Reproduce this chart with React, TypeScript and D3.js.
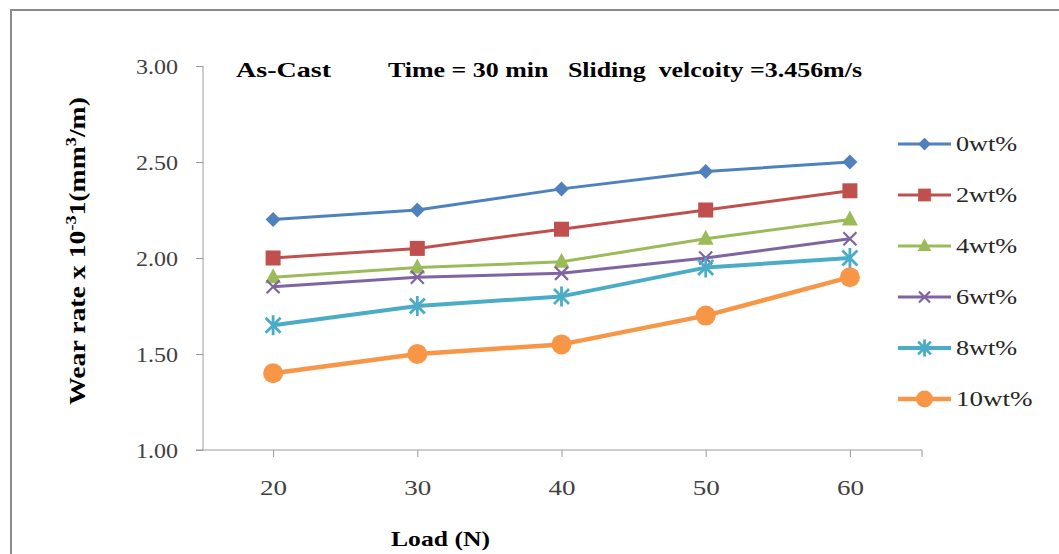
import React, { useEffect, useRef } from "react";
import * as d3 from "d3";

const loads = [20, 30, 40, 50, 60];
const seriesNames = ["0wt%", "2wt%", "4wt%", "6wt%", "8wt%", "10wt%"];
const wt0 = [2.2, 2.25, 2.36, 2.45, 2.5];
const wt2 = [2.0, 2.05, 2.15, 2.25, 2.35];
const wt4 = [1.9, 1.95, 1.98, 2.1, 2.2];
const wt6 = [1.85, 1.9, 1.92, 2.0, 2.1];
const wt8 = [1.65, 1.75, 1.8, 1.95, 2.0];
const wt10 = [1.4, 1.5, 1.55, 1.7, 1.9];
const yTicks = [1.0, 1.5, 2.0, 2.5, 3.0];

const colors = ["#4F81BD", "#C0504D", "#9BBB59", "#8064A2", "#4BACC6", "#F79646"];
const widths = [3, 3, 3, 3, 4, 4.5];
const markers = ["diamond", "square", "triangle", "x", "star", "circle"];

const W = 1059;
const H = 554;
const font = "'Liberation Serif', 'Times New Roman', serif";

function drawMarker(g: any, kind: string, x: number, y: number, color: string, scale = 1) {
  const s = scale;
  if (kind === "diamond") {
    g.append("path")
      .attr("d", `M${x},${y - 7.5 * s}L${x + 7.5 * s},${y}L${x},${y + 7.5 * s}L${x - 7.5 * s},${y}Z`)
      .attr("fill", color);
  } else if (kind === "square") {
    g.append("rect")
      .attr("x", x - 7.5 * s).attr("y", y - 7.5 * s)
      .attr("width", 15 * s).attr("height", 15 * s)
      .attr("fill", color);
  } else if (kind === "triangle") {
    g.append("path")
      .attr("d", `M${x},${y - 9 * s}L${x + 8 * s},${y + 6 * s}L${x - 8 * s},${y + 6 * s}Z`)
      .attr("fill", color);
  } else if (kind === "x") {
    const r = 6.5 * s;
    g.append("path")
      .attr("d", `M${x - r},${y - r}L${x + r},${y + r}M${x - r},${y + r}L${x + r},${y - r}`)
      .attr("stroke", color).attr("stroke-width", 2.2);
  } else if (kind === "star") {
    const r = 10 * s;
    g.append("path")
      .attr("d", `M${x - r * 0.75},${y - r * 0.75}L${x + r * 0.75},${y + r * 0.75}M${x - r * 0.75},${y + r * 0.75}L${x + r * 0.75},${y - r * 0.75}M${x},${y - r}L${x},${y + r}`)
      .attr("stroke", color).attr("stroke-width", 2.8);
  } else {
    g.append("circle").attr("cx", x).attr("cy", y).attr("r", 10 * s).attr("fill", color);
  }
}

const App = () => {
  const svgRef = useRef<SVGSVGElement>(null);

  useEffect(() => {
    const svg = d3.select(svgRef.current);
    svg.selectAll("*").remove();

    const data = [wt0, wt2, wt4, wt6, wt8, wt10];

    const x = d3.scalePoint<number>().domain(loads).range([201, 922]).padding(0.5);
    const y = d3.scaleLinear().domain([1, 3]).range([450, 66]);

    svg.append("rect").attr("width", W).attr("height", H).attr("fill", "#fff");

    // outer frame (top and left edges visible)
    svg.append("path")
      .attr("d", `M11,${H}L11,10L${W},10`)
      .attr("fill", "none").attr("stroke", "#8a8a8a").attr("stroke-width", 2);

    // y axis
    const yAxis = d3.axisLeft(y).tickValues(yTicks).tickFormat(d3.format(".2f")).tickSize(7).tickPadding(18);
    const ya = svg.append("g").attr("transform", "translate(203,0)").call(yAxis);
    ya.select(".domain").attr("stroke", "#9a9a9a").attr("d", "M0,66V450");
    ya.selectAll(".tick line").attr("stroke", "#9a9a9a");
    ya.selectAll(".tick text")
      .attr("font-family", font).attr("font-size", 22).attr("fill", "#404040")
      .attr("textLength", 42).attr("lengthAdjust", "spacingAndGlyphs");

    // x axis
    const xAxis = d3.axisBottom(x).tickSize(7).tickPadding(22);
    const xa = svg.append("g").attr("transform", "translate(0,450)").call(xAxis);
    xa.select(".domain").attr("stroke", "#9a9a9a").attr("d", "M196,0H922V7");
    xa.selectAll(".tick line").attr("stroke", "#9a9a9a");
    xa.selectAll(".tick text")
      .attr("font-family", font).attr("font-size", 22).attr("fill", "#404040")
      .attr("textLength", 27).attr("lengthAdjust", "spacingAndGlyphs");

    // series
    const line = d3.line<number>().x((_, i) => x(loads[i]) as number).y((d) => y(d));
    data.forEach((vals, si) => {
      const g = svg.append("g");
      g.append("path")
        .attr("d", line(vals))
        .attr("fill", "none")
        .attr("stroke", colors[si])
        .attr("stroke-width", widths[si])
        .attr("stroke-linejoin", "round");
      vals.forEach((v, i) => drawMarker(g, markers[si], x(loads[i]) as number, y(v), colors[si]));
    });

    // legend
    const lg = svg.append("g");
    seriesNames.forEach((name, i) => {
      const ly = 144 + i * 51;
      lg.append("line")
        .attr("x1", 898).attr("x2", 951).attr("y1", ly).attr("y2", ly)
        .attr("stroke", colors[i]).attr("stroke-width", widths[i]);
      drawMarker(lg, markers[i], 924.5, ly, colors[i], 0.85);
      lg.append("text")
        .attr("x", 956).attr("y", ly + 7)
        .attr("font-family", font).attr("font-size", 20).attr("fill", "#262626")
        .attr("textLength", name.length * 15.3).attr("lengthAdjust", "spacingAndGlyphs")
        .text(name);
    });

    // header texts
    svg.append("text")
      .attr("x", 236).attr("y", 77)
      .attr("font-family", font).attr("font-size", 21).attr("font-weight", "bold")
      .attr("textLength", 95).attr("lengthAdjust", "spacingAndGlyphs")
      .text("As-Cast");
    svg.append("text")
      .attr("x", 388).attr("y", 77)
      .attr("font-family", font).attr("font-size", 21).attr("font-weight", "bold")
      .attr("xml:space", "preserve")
      .attr("textLength", 474).attr("lengthAdjust", "spacingAndGlyphs")
      .text("Time = 30 min   Sliding  velcoity =3.456m/s");

    // y title
    const yt = svg.append("text")
      .attr("transform", "translate(85,251) rotate(-90)")
      .attr("text-anchor", "middle")
      .attr("font-family", font).attr("font-size", 23).attr("font-weight", "bold")
      .attr("textLength", 308).attr("lengthAdjust", "spacingAndGlyphs");
    yt.append("tspan").text("Wear rate x 10");
    yt.append("tspan").attr("font-size", 15).attr("dy", -9).text("-3");
    yt.append("tspan").attr("dy", 9).text("1(mm");
    yt.append("tspan").attr("font-size", 15).attr("dy", -9).text("3");
    yt.append("tspan").attr("dy", 9).text("/m)");

    // x title
    svg.append("text")
      .attr("x", 391).attr("y", 546)
      .attr("font-family", font).attr("font-size", 22).attr("font-weight", "bold")
      .attr("textLength", 99).attr("lengthAdjust", "spacingAndGlyphs")
      .text("Load (N)");
  }, []);

  return (
    <svg
      ref={svgRef}
      width={W}
      height={H}
      viewBox={`0 0 ${W} ${H}`}
      style={{ position: "absolute", left: 0, top: 0 }}
    />
  );
};

export default App;
